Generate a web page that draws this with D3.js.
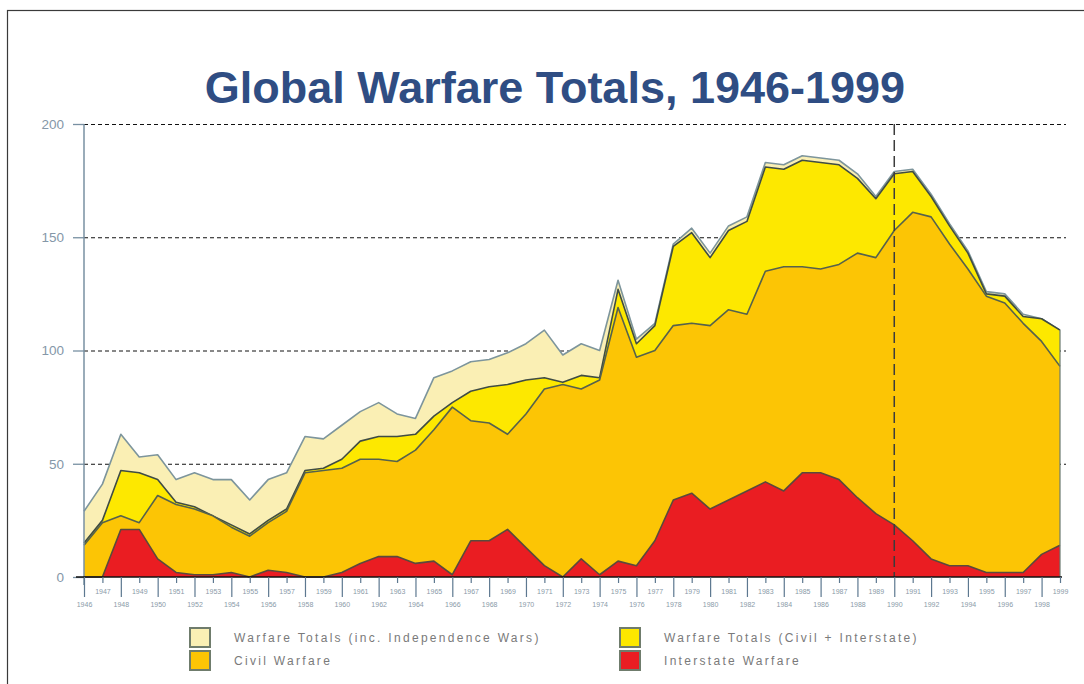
<!DOCTYPE html>
<html>
<head>
<meta charset="utf-8">
<script src="https://cdn.jsdelivr.net/npm/d3@7"></script>
<style>
	body { margin: 0; background: #fff; }
	svg { display: block; font-family: "Liberation Sans", Arial, sans-serif; }
</style>
</head>
<body>
<div id="chart"></div>
<script>
// years 1946 - 1999
var years = d3.range(1946, 2000);

var totalIndep = [29, 41, 63, 53, 54, 43, 46, 43, 43, 34,
	43, 46, 62, 61, 67, 73, 77, 72, 70, 88,
	91, 95, 96, 99, 103, 109, 98, 103, 100, 131,
	105, 112, 147, 154, 143, 155, 159, 183, 182, 186,
	185, 184, 178, 168, 179, 180, 169, 156, 144, 126,
	125, 116, 114, 109];

var totalCivilInter = [15, 25, 47, 46, 43, 33, 31, 27, 23, 19,
	25, 30, 47, 48, 52, 60, 62, 62, 63, 71,
	77, 82, 84, 85, 87, 88, 86, 89, 88, 127,
	103, 111, 146, 152, 141, 153, 157, 181, 180, 184,
	183, 182, 176, 167, 178, 179, 168, 155, 143, 125,
	124, 115, 114, 109];

var civil = [14, 24, 27, 24, 36, 32, 30, 27, 22, 18,
	24, 29, 46, 47, 48, 52, 52, 51, 56, 65,
	75, 69, 68, 63, 72, 83, 85, 83, 87, 119,
	97, 100, 111, 112, 111, 118, 116, 135, 137, 137,
	136, 138, 143, 141, 153, 161, 159, 147, 136, 124,
	121, 112, 104, 93];

var interstate = [0, 0, 21, 21, 8, 2, 1, 1, 2, 0,
	3, 2, 0, 0, 2, 6, 9, 9, 6, 7,
	1, 16, 16, 21, 13, 5, 0, 8, 1, 7,
	5, 16, 34, 37, 30, 34, 38, 42, 38, 46,
	46, 43, 35, 28, 23, 16, 8, 5, 5, 2,
	2, 2, 10, 14];

var yTicks = [0, 50, 100, 150, 200];
var gridTicks = [50, 100, 150, 200];
var markerYear = 1990;

var seriesNames = ["Warfare Totals (inc. Independence Wars)", "Warfare Totals (Civil + Interstate)",
	"Civil Warfare", "Interstate Warfare"];

var series = [
	{name: seriesNames[0], values: totalIndep, fill: "#faefb4", line: "#7d959c"},
	{name: seriesNames[1], values: totalCivilInter, fill: "#fde800", line: "#3f4c44"},
	{name: seriesNames[2], values: civil, fill: "#fcc505", line: "#56624c"},
	{name: seriesNames[3], values: interstate, fill: "#ea1d22", line: "#5a4a3c"}
];

var width = 1084,
	height = 684,
	margin = {left: 84, right: 24, top: 124, bottom: 107};

var x = d3.scaleLinear()
	.domain([1946, 1999])
	.range([margin.left, width - margin.right]);

var y = d3.scaleLinear()
	.domain([0, 200])
	.range([height - margin.bottom, margin.top]);

var svg = d3.select('#chart').append('svg')
	.attr('width', width)
	.attr('height', height);

// frame
svg.append('rect')
	.attr('x', 7.5)
	.attr('y', 10.5)
	.attr('width', width + 20)
	.attr('height', height + 20)
	.attr('fill', 'none')
	.attr('stroke', '#3a3a3a')
	.attr('stroke-width', 1.2);

svg.append('text')
	.attr('x', 555)
	.attr('y', 103)
	.attr('text-anchor', 'middle')
	.style('font-size', '45px')
	.style('font-weight', 'bold')
	.style('fill', '#2f4d83')
	.text('Global Warfare Totals, 1946-1999');

// dashed grid lines
svg.append('g')
	.attr('transform', 'translate(' + margin.left + ',0)')
	.call(d3.axisRight(y).tickValues(gridTicks).tickSize(982).tickFormat(''))
	.call(function(g) {
		g.select('.domain').remove();
		g.selectAll('line')
			.attr('stroke', '#111')
			.attr('stroke-dasharray', '4,3');
	});

var area = function(vals) {
	return d3.area()
		.x(function(d, i) { return x(years[i]); })
		.y0(y(0))
		.y1(function(d) { return y(d); })(vals);
};

var line = d3.line()
	.x(function(d, i) { return x(years[i]); })
	.y(function(d) { return y(d); });

var layers = svg.append('g').attr('class', 'layers');

series.forEach(function(s) {
	layers.append('path')
		.attr('d', area(s.values))
		.attr('fill', s.fill);
	layers.append('path')
		.attr('d', line(s.values))
		.attr('fill', 'none')
		.attr('stroke', s.line)
		.attr('stroke-width', 1.6)
		.attr('stroke-linejoin', 'round');
});

// right edge of the areas
svg.append('line')
	.attr('x1', x(1999))
	.attr('x2', x(1999))
	.attr('y1', y(0))
	.attr('y2', y(totalIndep[totalIndep.length - 1]))
	.attr('stroke', '#6a7a70')
	.attr('stroke-width', 1.2);

// 1990 marker
svg.append('line')
	.attr('x1', x(markerYear))
	.attr('x2', x(markerYear))
	.attr('y1', y(200))
	.attr('y2', y(0))
	.attr('stroke', '#3c3c3c')
	.attr('stroke-width', 1.5)
	.attr('stroke-dasharray', '11,5');

// y axis
svg.append('g')
	.attr('transform', 'translate(' + margin.left + ',0)')
	.call(d3.axisLeft(y).tickValues(yTicks).tickSize(11).tickPadding(9))
	.call(function(g) {
		g.select('.domain')
			.attr('d', 'M0,' + y(200) + 'V' + (y(0) + 8))
			.attr('stroke', '#7890a2')
			.attr('stroke-width', 1.5);
		g.selectAll('line').attr('stroke', '#7890a2').attr('stroke-width', 1.3);
		g.selectAll('text')
			.style('font-size', '13.5px')
			.style('fill', '#8597a8');
	});

// x axis: even years on the long ticks, odd years on the short ones
var evenYears = years.filter(function(d) { return d % 2 === 0; });
var oddYears = years.filter(function(d) { return d % 2 === 1; });

svg.append('g')
	.attr('transform', 'translate(0,' + y(0) + ')')
	.call(d3.axisBottom(x).tickValues(evenYears).tickSize(20).tickFormat(d3.format('d')))
	.call(function(g) {
		g.select('.domain')
			.attr('d', 'M' + (margin.left - 8) + ',0H' + (x(1999) + 2))
			.attr('stroke', '#111')
			.attr('stroke-width', 1.5);
		g.selectAll('line').attr('stroke', '#5d7890').attr('stroke-width', 1.2);
		g.selectAll('text')
			.attr('y', 25)
			.style('font-size', '7px')
			.style('fill', '#8a9aa8');
	});

svg.append('g')
	.attr('transform', 'translate(0,' + y(0) + ')')
	.call(d3.axisBottom(x).tickValues(oddYears).tickSize(6).tickFormat(d3.format('d')))
	.call(function(g) {
		g.select('.domain').remove();
		g.selectAll('line').attr('stroke', '#5d7890').attr('stroke-width', 1.2);
		g.selectAll('text')
			.attr('y', 12)
			.style('font-size', '7px')
			.style('fill', '#8a9aa8');
	});

// legend
var legendPos = [
	{x: 190, y: 628},
	{x: 620, y: 628},
	{x: 190, y: 651},
	{x: 620, y: 651}
];

var legend = svg.append('g').attr('class', 'legend');

series.forEach(function(s, i) {
	var p = legendPos[i];
	legend.append('rect')
		.attr('x', p.x)
		.attr('y', p.y)
		.attr('width', 20)
		.attr('height', 19)
		.attr('fill', s.fill)
		.attr('stroke', '#6f7c6c')
		.attr('stroke-width', 2);
	legend.append('text')
		.attr('x', p.x + 44)
		.attr('y', p.y + 14)
		.style('font-size', '12px')
		.style('letter-spacing', '2.3px')
		.style('fill', '#7a7a7a')
		.text(s.name);
});
</script>
</body>
</html>
